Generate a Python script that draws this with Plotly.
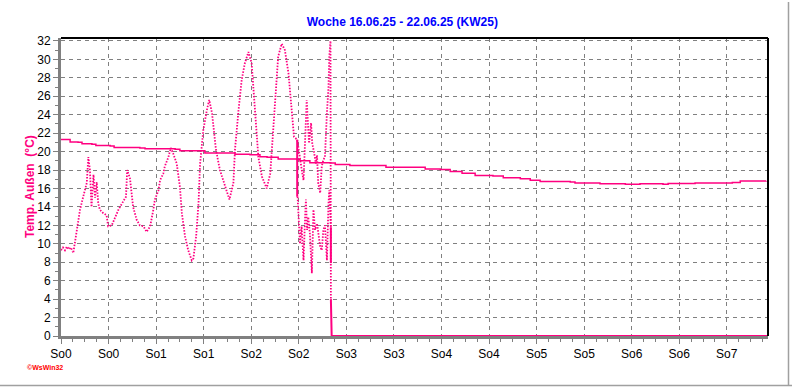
import plotly.graph_objects as go

# ---------------- data (hours since start of week, °C) ----------------
tick_hours = [0, 12, 24, 36, 48, 60, 72, 84, 96, 108, 120, 132, 144, 156, 168]
tick_labels = ["So0", "So0", "So1", "So1", "So2", "So2", "So3", "So3",
               "So4", "So4", "So5", "So5", "So6", "So6", "So7"]

slow_hours = [0, 1.5, 2.3, 4.3, 5.3, 7.8, 8.8, 12.4, 13.4, 19.9, 21.2, 28.8, 30.0,
              35.1, 36.3, 42.7, 43.9, 47.7, 50.2, 52.0, 54.8, 59.6, 60.3, 62.1, 62.8,
              67.9, 69.2, 71.9, 72.9, 81.0, 82.0, 90.6, 91.9, 95.7, 98.2, 101.2, 104.5,
              109.0, 111.6, 115.9, 118.4, 120.9, 128.5, 129.7, 136.0, 142.4, 146.1,
              151.9, 153.2, 160.0, 169.4, 171.4, 177.9]
slow_temp = [21.3, 21.3, 21.05, 21.0, 20.85, 20.8, 20.65, 20.6, 20.45, 20.4, 20.3, 20.25, 20.1,
             20.1, 19.85, 19.85, 19.7, 19.65, 19.45, 19.4, 19.2, 19.15, 19.0, 19.0, 18.8,
             18.75, 18.6, 18.6, 18.5, 18.5, 18.3, 18.3, 18.1, 18.05, 17.85, 17.65, 17.4,
             17.35, 17.15, 17.05, 16.9, 16.75, 16.7, 16.6, 16.5, 16.45, 16.5,
             16.45, 16.55, 16.6, 16.65, 16.8, 16.85]

main_hours = [0, 0.5, 1.0, 1.5, 2.0, 2.5, 3.1, 4.0, 4.8, 5.6, 6.5, 6.9, 7.3, 7.7, 8.2, 8.6,
              9.0, 9.4, 9.8, 10.7, 11.5, 11.9, 12.8, 13.6, 14.5, 15.7, 16.4, 16.7, 17.4,
              18.2, 19.1, 19.9, 20.8, 21.6, 22.5, 23.3, 23.7, 24.6, 25.0, 25.8, 26.2,
              27.1, 27.7, 28.3, 29.2, 30.0, 30.5, 31.3, 32.1, 33.0, 33.4, 34.1, 34.7,
              35.1, 35.9, 36.8, 37.4, 38.1, 39.1, 40.1, 41.4, 42.5, 43.5, 43.9, 44.8,
              45.6, 46.4, 47.3, 48.1, 49.0, 49.8, 50.7, 51.9, 52.8, 53.4, 54.0, 54.8,
              55.7, 56.5, 57.4, 58.2, 58.8, 59.6, 60.3, 60.9, 61.2, 61.4, 61.8, 62.0,
              62.3, 62.6, 63.1, 63.4, 63.9, 64.3, 64.6, 64.9, 65.4, 65.8, 66.2, 66.6,
              67.1, 67.5, 67.7, 68.0, 68.1]
main_temp = [9.3, 9.6, 9.3, 9.7, 9.4, 9.6, 9.0, 11.5, 13.7, 15.1, 16.6, 19.4, 18.0, 14.0, 17.5, 15.0,
             16.7, 14.4, 13.7, 13.3, 13.1, 11.9, 12.0, 12.8, 13.7, 14.6, 15.1, 18.0, 17.1,
             14.0, 12.6, 12.0, 11.9, 11.3, 11.9, 13.7, 14.8, 15.8, 16.9, 17.6, 18.4,
             19.4, 20.4, 19.8, 18.7, 16.2, 13.3, 10.8, 9.3, 8.2, 8.4, 10.8, 14.4,
             18.7, 22.3, 24.5, 25.6, 24.2, 20.2, 18.0, 16.4, 14.8, 16.6, 20.2, 24.5,
             27.8, 29.6, 30.8, 29.6, 24.2, 19.4, 17.3, 16.0, 17.6, 21.3, 26.0, 30.3,
             31.7, 31.0, 28.5, 24.5, 21.6, 21.3, 19.1, 17.6, 16.9, 19.4, 24.2, 25.6,
             23.1, 20.9, 23.1, 20.9, 19.8, 18.7, 19.6, 16.6, 15.5, 18.4, 19.1, 19.4,
             24.2, 27.0, 30.3, 32.0, 4.0]

low_hours = [59.7, 60.0, 60.3, 60.7, 61.2, 61.6, 61.8, 62.1, 62.4, 62.8, 63.3, 63.7, 64.1,
             64.6, 65.0, 65.4, 65.8, 66.2, 66.6, 67.1, 67.5, 67.7, 68.1]
low_temp = [15.1, 11.5, 10.0, 11.9, 8.2, 12.9, 14.8, 11.5, 12.9, 11.1, 6.8, 13.7, 11.5,
            12.2, 10.8, 9.7, 9.3, 11.5, 12.0, 8.2, 14.4, 15.8, 11.8]

solid_hours = [59.6, 59.6, None, 68.1, 68.1, None, 68.1, 68.3, 178.4]
solid_temp = [21.3, 15.1, None, 11.8, 7.9, None, 4.0, 0.0, 0.0]

PINK = "#FF0080"
GRID = "#808080"
FONT = "Liberation Sans, Arial, sans-serif"
DOT = "1.5px,1.5px"

fig = go.Figure()
fig.add_trace(go.Scatter(x=slow_hours, y=slow_temp, mode="lines", line_shape="hv",
                         line=dict(color=PINK, width=1.5), showlegend=False, hoverinfo="skip"))
fig.add_trace(go.Scatter(x=main_hours, y=main_temp, mode="lines",
                         line=dict(color=PINK, width=1.8, dash=DOT),
                         showlegend=False, hoverinfo="skip"))
fig.add_trace(go.Scatter(x=low_hours, y=low_temp, mode="lines",
                         line=dict(color=PINK, width=1.8, dash=DOT),
                         showlegend=False, hoverinfo="skip"))
fig.add_trace(go.Scatter(x=solid_hours, y=solid_temp, mode="lines", connectgaps=False,
                         line=dict(color=PINK, width=2), showlegend=False, hoverinfo="skip"))

fig.update_layout(
    width=792, height=387,
    margin=dict(l=61, r=24, t=38, b=51, autoexpand=False),
    paper_bgcolor="white", plot_bgcolor="white",
    font=dict(family=FONT, size=12, color="black"),
    title=dict(text="<b>Woche 16.06.25 - 22.06.25 (KW25)</b>",
               font=dict(family=FONT, size=12, color="#0000FF"),
               x=0.508, xref="container", xanchor="center",
               y=1 - 22 / 387, yref="container", yanchor="middle"),
)

fig.update_xaxes(
    range=[0, 178.4], tickmode="array", tickvals=tick_hours, ticktext=tick_labels,
    showgrid=True, gridcolor=GRID, griddash="4px,4px", gridwidth=1,
    showline=True, linecolor=GRID, linewidth=3,
    ticks="outside", ticklen=5, tickcolor=GRID, tickwidth=1,
    minor=dict(dtick=3, tick0=0, ticks="outside", ticklen=3, tickcolor=GRID, showgrid=False),
    zeroline=False, tickfont=dict(size=12, color="black"),
)
fig.update_yaxes(
    range=[0, 32.32], tickmode="linear", tick0=0, dtick=2,
    showgrid=True, gridcolor=GRID, griddash="4px,4px", gridwidth=1,
    showline=True, linecolor=GRID, linewidth=3,
    ticks="outside", ticklen=5, tickcolor=GRID, tickwidth=1,
    minor=dict(dtick=1, tick0=0, ticks="outside", ticklen=3, tickcolor=GRID, showgrid=False),
    zeroline=False, tickfont=dict(size=12, color="black"),
)

# black frame on top and right of the plot area
fig.add_shape(type="line", xref="paper", yref="paper", x0=0, x1=1, y0=1, y1=1,
              line=dict(color="black", width=2))
fig.add_shape(type="line", xref="paper", yref="paper", x0=1, x1=1, y0=0, y1=1,
              line=dict(color="black", width=2))
# light window border at bottom and right
fig.add_shape(type="line", xref="paper", yref="paper", x0=-0.09, x1=1.04,
              y0=(336 - 385.5) / 298, y1=(336 - 385.5) / 298,
              line=dict(color="#A0A0A0", width=1.5))
fig.add_shape(type="line", xref="paper", yref="paper", x0=(788.5 - 61) / 707, x1=(788.5 - 61) / 707,
              y0=(336 - 386) / 298, y1=(336 - 2) / 298,
              line=dict(color="#A0A0A0", width=1.5))

fig.add_annotation(text="<b>Temp. Außen  (°C)</b>", textangle=-90,
                   xref="paper", yref="paper", x=(30 - 61) / 707, y=(336 - 187) / 298,
                   xanchor="center", yanchor="middle", showarrow=False,
                   font=dict(family=FONT, size=12, color=PINK))
fig.add_annotation(text="<b>©WsWin32</b>",
                   xref="paper", yref="paper", x=(25 - 61) / 707, y=(336 - 367) / 298,
                   xanchor="left", yanchor="middle", showarrow=False,
                   font=dict(family=FONT, size=7, color="#FF0000"))

fig.write_html("out.html", config={"displayModeBar": False},
               post_script="document.body.style.margin='0';document.body.style.padding='0';")
